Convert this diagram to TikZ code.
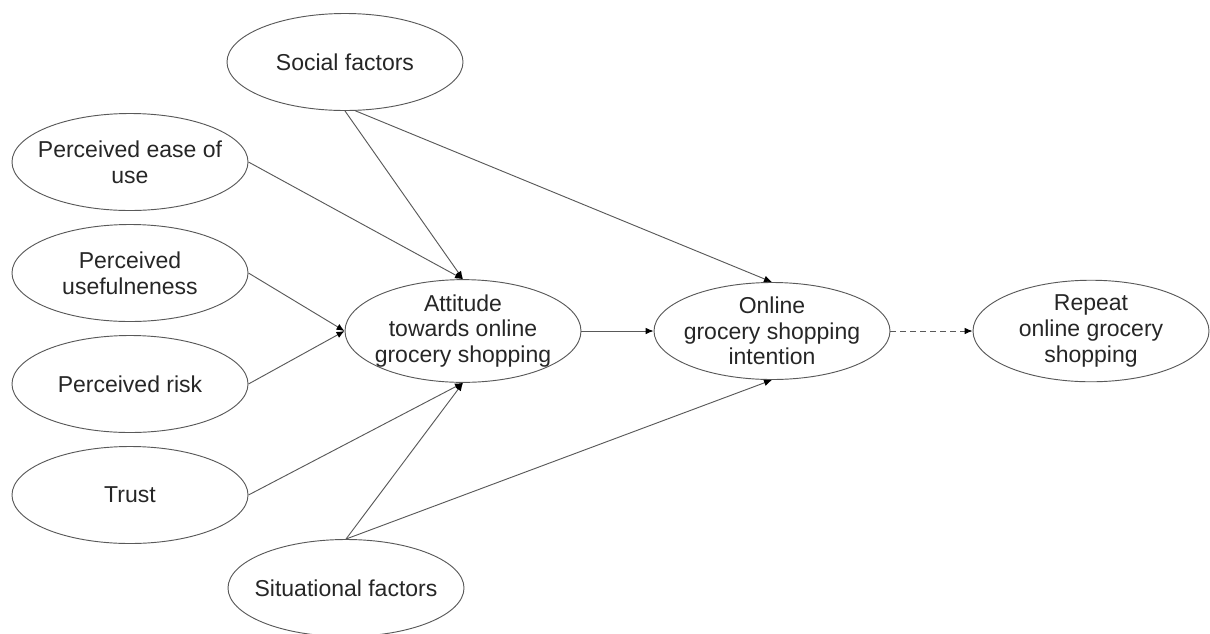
\documentclass[tikz,border=0pt]{standalone}
\usepackage{fontspec}
\setmainfont{Liberation Sans}
\usetikzlibrary{shapes.geometric,arrows.meta}
\begin{document}
\begin{tikzpicture}[x=0.75pt,y=-0.75pt,
 ell/.style={ellipse,draw=black!65,line width=0.7pt,minimum width=177pt,minimum height=72.75pt,inner xsep=-12pt,inner ysep=0pt,align=center,font=\fontsize{17.25}{19.2}\selectfont,text=black!85},
 conn/.style={draw=black!65,line width=0.7pt,-{Latex[length=6pt,width=5pt,color=black]}},
 dconn/.style={conn,dash pattern=on 4.5pt off 3pt}]
\useasboundingbox (0,0) rectangle (1210,633);
\node[ell] (soc) at (345,62) {Social factors};
\node[ell] (ease) at (130,162) {Perceived ease of\\use};
\node[ell] (use) at (130,273) {Perceived\\usefulneness};
\node[ell] (risk) at (130,384) {Perceived risk};
\node[ell] (trust) at (130,495) {Trust};
\node[ell] (sit) at (346,588) {Situational factors};
\node[ell] (att) at (463,331) {Attitude\\towards online\\grocery shopping};
\node[ell] (int) at (772,331) {Online\\grocery shopping\\intention};
\node[ell] (rep) at (1091,331) {Repeat\\online grocery\\shopping};
\draw[conn] (soc.south) -- (att.north);
\draw[conn] (ease.east) -- (att.north);
\draw[conn] (use.east) -- (att.west);
\draw[conn] (risk.east) -- (att.west);
\draw[conn] (trust.east) -- (att.south);
\draw[conn] (sit.north) -- (att.south);
\draw[conn] (soc.-78) -- (int.north);
\draw[conn] (sit.north) -- (int.south);
\draw[conn] (att.east) -- (int.west);
\draw[dconn] (int.east) -- (rep.west);
\end{tikzpicture}
\end{document}
